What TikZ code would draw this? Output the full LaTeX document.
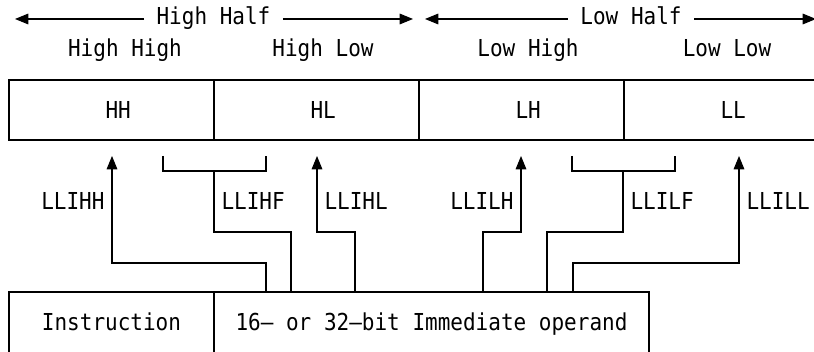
\documentclass[tikz,border=0pt]{standalone}
\usepackage{fontspec}
\usetikzlibrary{arrows.meta}
\newfontfamily\regfont[FakeStretch=0.9]{DejaVu Sans Mono}

\begin{document}
\begin{tikzpicture}
  [x=0.75pt,y=-0.75pt,
  every node/.style={font=\regfont\fontsize{17.5}{20}\selectfont},
  line width=0.8pt,
  >={Triangle[length=10pt,width=8pt]},
  cell/.style={draw,inner sep=0pt,minimum width=153.75pt,minimum height=45pt,
    text height=13.5pt,text depth=0pt},
  cellpad/.style={execute at begin node={\hspace*{10pt}}},
  field/.style={cell,minimum height=48pt,text height=10.5pt},
  half/.style={inner xsep=9pt,inner ysep=0pt,anchor=base,
    text height=12.75pt,text depth=3.75pt},
  lbl/.style={inner sep=0pt}]

\useasboundingbox (0,0) rectangle (814,352);
\clip (0,0) rectangle (814,352);

% halves of the register
\node[half] (hhalf) at (213.5,25) {High Half};
\node[half] (lhalf) at (631,25)   {Low Half};
\coordinate (hhl) at (15,19);  \coordinate (hhr) at (413,19);
\coordinate (lhl) at (425,19); \coordinate (lhr) at (816,19);
\draw[->] (hhalf.west) -- (hhalf.west -| hhl);
\draw[->] (hhalf.east) -- (hhalf.east -| hhr);
\draw[->] (lhalf.west) -- (lhalf.west -| lhl);
\draw[->] (lhalf.east) -- (lhalf.east -| lhr);

\node[lbl,anchor=base] (hhname) at (125,57) {High High};
\node[lbl,anchor=base] (hlname) at (323,57) {High Low};
\node[lbl,anchor=base] (lhname) at (528,57) {Low High};
\node[lbl,anchor=base] (llname) at (727,57) {Low Low};

% register cells
\node[cell,cellpad] (hh) at (111.5,110) {HH};
\node[cell,cellpad] (hl) at (316.5,110) {HL};
\node[cell,cellpad] (lh) at (521.5,110) {LH};
\node[cell,cellpad] (ll) at (726.5,110) {LL};

% instruction
\node[field] (instr) at (111.5,324) {Instruction};
\node[field,minimum width=326.25pt] (imm) at (431.5,324) {16— or 32—bit Immediate operand};

% instruction names
\node[lbl,anchor=base east] (nhh) at (105,210) {LLIHH};
\node[lbl,anchor=base west] (nhf) at (221,210) {LLIHF};
\node[lbl,anchor=base west] (nhl) at (324,210) {LLIHL};
\node[lbl,anchor=base east] (nlh) at (514,210) {LLILH};
\node[lbl,anchor=base west] (nlf) at (630,210) {LLILF};
\node[lbl,anchor=base west] (nll) at (746,210) {LLILL};

% connectors
\coordinate (tHH) at (112,156); \coordinate (bHH) at (266,263);
\coordinate (tHL) at (317,156); \coordinate (bHL) at (355,232);
\coordinate (tLH) at (521,156); \coordinate (bLH) at (483,232);
\coordinate (tLL) at (739,156); \coordinate (bLL) at (573,263);
\coordinate (brHF) at (214,171); \coordinate (bHF) at (291,232);
\coordinate (brLF) at (623,171); \coordinate (bLF) at (547,232);

\draw[->] (imm.north -| bHH) -- (bHH) -| (tHH);
\draw[->] (imm.north -| bHL) -- (bHL) -| (tHL);
\draw[->] (imm.north -| bLH) -- (bLH) -| (tLH);
\draw[->] (imm.north -| bLL) -- (bLL) -| (tLL);
\draw (imm.north -| bHF) -- (bHF) -| (brHF);
\draw (imm.north -| bLF) -- (bLF) -| (brLF);
\draw (brHF) ++(-51,-15) |- ++(103,15) -- ++(0,-15);
\draw (brLF) ++(-51,-15) |- ++(103,15) -- ++(0,-15);
\end{tikzpicture}
\end{document}
